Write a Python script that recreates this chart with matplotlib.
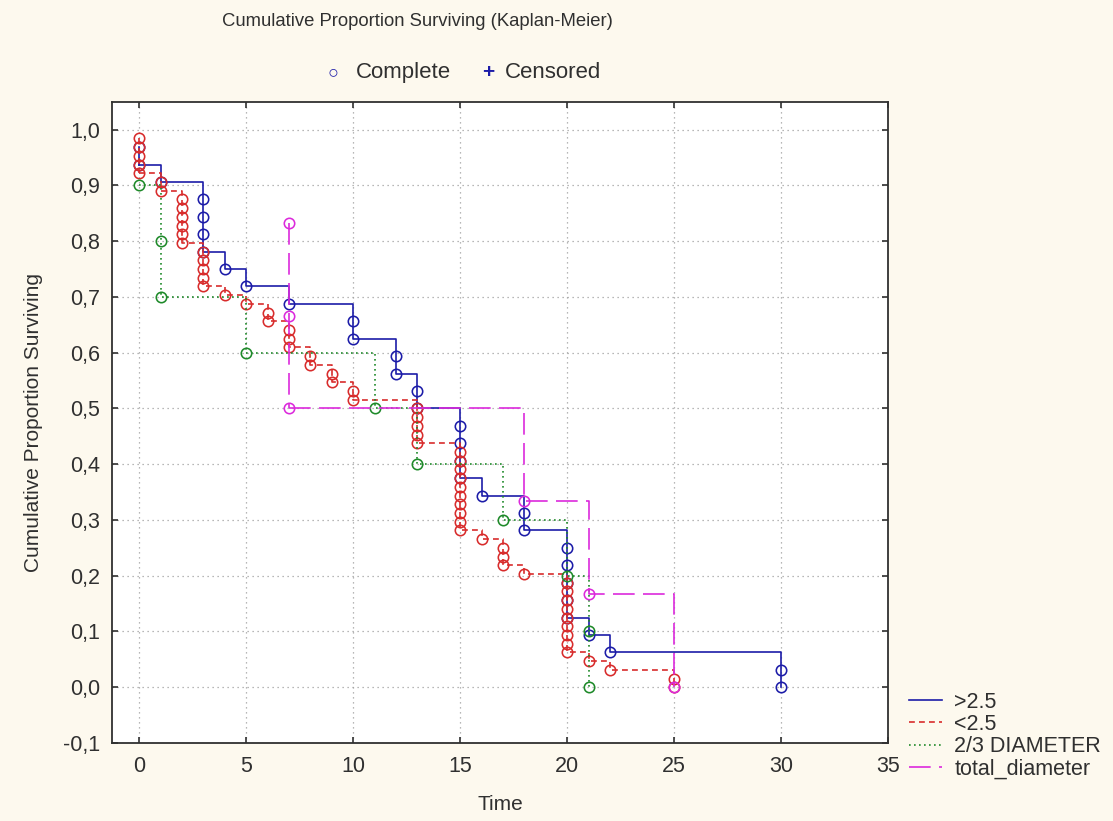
import matplotlib as mpl
mpl.use('Agg')
import numpy as np
import matplotlib.pyplot as plt
from matplotlib.lines import Line2D
from matplotlib.ticker import FuncFormatter

# event times (all complete, no censoring) per group
times_gt25 = [0, 0, 1, 3, 3, 3, 3, 4, 5, 7, 10, 10, 12, 12, 13, 13,
              15, 15, 15, 15, 16, 18, 18, 20, 20, 20, 20, 20, 21, 22, 30, 30]
times_lt25 = ([0] * 5 + [1] * 2 + [2] * 6 + [3] * 5 + [4] + [5] + [6] * 2
              + [7] * 3 + [8] * 2 + [9] * 2 + [10] * 2 + [13] * 5 + [15] * 10
              + [16] + [17] * 3 + [18] + [20] * 9 + [21] + [22] + [25] * 2)
times_23diam = [0, 1, 1, 5, 11, 13, 17, 20, 21, 21]
times_total = [7, 7, 7, 18, 21, 25]

labels = ['>2.5', '<2.5', '2/3 DIAMETER', 'total_diameter']
colors = ['#1c1ca8', '#d82c2c', '#1f8a2a', '#dc2adc']
styles = [dict(linestyle='-'),
          dict(linestyle=(0, (3.5, 2.5))),
          dict(linestyle=(0, (1, 2))),
          dict(linestyle=(0, (13, 5)))]

BG = '#fdf9ee'
TXT = '#303030'
plt.rcParams['font.family'] = ['Liberation Sans', 'DejaVu Sans']

fig = plt.figure(figsize=(11.13, 8.21), dpi=100, facecolor=BG)
ax = fig.add_axes([0.101, 0.095, 0.697, 0.781])
ax.set_facecolor('white')


def kaplan_meier(times):
    t = np.sort(np.asarray(times, dtype=float))
    n = len(t)
    surv_each = 1.0 - np.arange(1, n + 1) / n
    ut = np.unique(t)
    surv_step = np.array([surv_each[np.where(t == u)[0][-1]] for u in ut])
    return t, surv_each, ut, surv_step


for times, col, st in zip([times_gt25, times_lt25, times_23diam, times_total],
                          colors, styles):
    t, s, ut, ss = kaplan_meier(times)
    ax.step(ut, ss, where='post', color=col, lw=1.2, **st)
    # vertical drop at first event time
    ax.plot([ut[0], ut[0]], [s[0], ss[0]], color=col, lw=1.2, **st)
    ax.plot(t, s, 'o', ms=7.5, mfc='none', mec=col, mew=1.15, linestyle='none')

ax.set_xlim(-1.25, 35)
ax.set_ylim(-0.1, 1.05)
ax.set_xticks(np.arange(0, 36, 5))
ax.set_yticks(np.round(np.arange(-0.1, 1.01, 0.1), 1))
ax.yaxis.set_major_formatter(FuncFormatter(lambda v, p: f'{v:.1f}'.replace('.', ',')))
ax.grid(True, linestyle=(0, (1, 3)), color='#a0a0a0', lw=0.9)
ax.tick_params(direction='in', length=4, width=1.2, top=True, right=True,
               labelsize=15.5, colors=TXT, pad=9)
for sp in ax.spines.values():
    sp.set_color(TXT)
    sp.set_linewidth(1.3)

ax.set_xlabel('Time', fontsize=15, color=TXT, labelpad=13)
ax.set_ylabel('Cumulative Proportion Surviving', fontsize=15, color=TXT, labelpad=14)

fig.text(0.3747, 0.974, 'Cumulative Proportion Surviving (Kaplan-Meier)',
         ha='center', va='center', fontsize=13.3, color=TXT)
fig.text(0.299, 0.912, '\u25CB', ha='center', va='center', fontsize=13, color=colors[0])
fig.text(0.320, 0.912, 'Complete', ha='left', va='center', fontsize=16, color=TXT)
fig.text(0.439, 0.912, '+', ha='center', va='center', fontsize=15,
         fontweight='bold', color=colors[0])
fig.text(0.4537, 0.912, 'Censored', ha='left', va='center', fontsize=16, color=TXT)

handles = [Line2D([], [], color=c, lw=1.2, **st) for c, st in zip(colors, styles)]
fig.legend(handles, labels, loc='lower left', bbox_to_anchor=(0.809, 0.04),
           frameon=False, fontsize=15.5, handlelength=1.55, handletextpad=0.55,
           labelspacing=0.06, borderaxespad=0, labelcolor=TXT)

fig.savefig('out.png', dpi=100, facecolor=BG)
